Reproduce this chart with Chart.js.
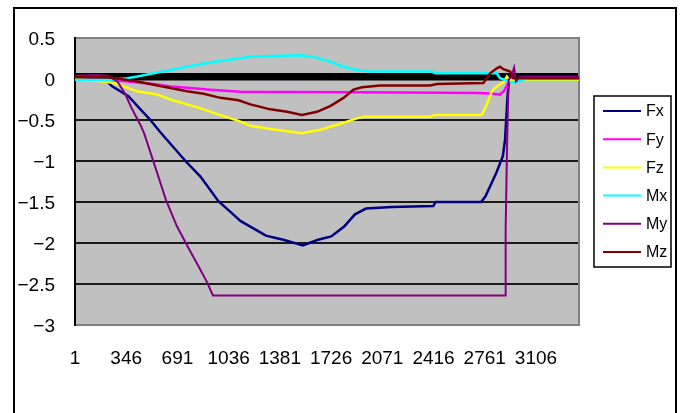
<!DOCTYPE html>
<html>
<head>
<meta charset="utf-8">
<script src="https://cdn.jsdelivr.net/npm/chart.js@4.4.1/dist/chart.umd.min.js"></script>
<style>
  html, body { margin: 0; padding: 0; background: #fff; }
  #wrap { width: 683px; height: 413px; }
</style>
</head>
<body>
<div id="wrap"><canvas id="c" width="683" height="413"></canvas></div>
<script>
// Sample index axis: last sample and labelled sample numbers
const SAMPLE_COUNT = 3396;
const CATEGORY_TICKS = [1, 346, 691, 1036, 1381, 1726, 2071, 2416, 2761, 3106];
const Y_MIN = -3, Y_MAX = 0.5, Y_STEP = 0.5;

const SERIES_NAMES = ['Fx', 'Fy', 'Fz', 'Mx', 'My', 'Mz'];

// Fx
const FX_AT = [1, 206, 251, 361, 442, 509, 576, 745, 846, 967, 1048, 1115, 1182, 1287, 1404, 1536, 1638, 1727, 1814, 1887, 1961, 2136, 2415, 2429, 2737, 2766, 2840, 2883, 2898, 2913, 2922, 2945, 3396];
const FX    = [-0.01, -0.01, -0.09, -0.21, -0.37, -0.50, -0.65, -1.00, -1.19, -1.49, -1.62, -1.73, -1.80, -1.91, -1.96, -2.03, -1.96, -1.92, -1.80, -1.65, -1.58, -1.56, -1.55, -1.50, -1.50, -1.43, -1.14, -0.94, -0.74, -0.25, -0.05, 0.00, 0.00];

// Fy
const FY_AT = [1, 193, 307, 462, 531, 644, 778, 913, 1115, 1518, 2191, 2722, 2816, 2863, 2890, 2913, 2926, 3396];
const FY    = [0.00, -0.01, -0.02, -0.05, -0.06, -0.09, -0.11, -0.13, -0.155, -0.16, -0.165, -0.17, -0.18, -0.19, -0.15, -0.07, -0.01, 0.00];

// Fz
const FZ_AT = [1, 193, 262, 329, 420, 554, 644, 756, 868, 980, 1103, 1182, 1317, 1530, 1653, 1788, 1900, 1945, 2169, 2393, 2427, 2741, 2775, 2809, 2842, 2887, 2910, 2925, 3396];
const FZ    = [0.00, -0.03, -0.05, -0.09, -0.15, -0.19, -0.25, -0.31, -0.37, -0.44, -0.51, -0.57, -0.61, -0.66, -0.62, -0.545, -0.48, -0.46, -0.46, -0.46, -0.44, -0.44, -0.31, -0.15, -0.09, -0.04, 0.03, -0.01, -0.01];

// Mx
const MX_AT = [1, 240, 352, 420, 531, 644, 756, 868, 980, 1103, 1182, 1317, 1530, 1608, 1720, 1810, 1900, 1990, 2405, 2427, 2842, 2864, 2898, 2932, 2986, 3033, 3396];
const MX    = [-0.01, -0.01, 0.01, 0.03, 0.07, 0.11, 0.15, 0.19, 0.22, 0.25, 0.27, 0.28, 0.29, 0.27, 0.21, 0.15, 0.11, 0.09, 0.09, 0.07, 0.07, 0.01, -0.01, -0.04, -0.03, 0.00, 0.00];

// My
const MY_AT = [1, 139, 220, 287, 341, 381, 442, 468, 539, 613, 686, 759, 832, 891, 930, 2898, 2902, 2912, 2922, 2939, 2959, 2972, 2999, 3396];
const MY    = [0.04, 0.05, 0.04, -0.03, -0.19, -0.35, -0.56, -0.67, -1.06, -1.47, -1.79, -2.04, -2.28, -2.48, -2.64, -2.64, -1.83, -0.74, -0.01, 0.03, 0.14, -0.03, 0.03, 0.03];

// Mz
const MZ_AT = [1, 218, 307, 420, 531, 644, 756, 868, 980, 1103, 1182, 1317, 1429, 1530, 1631, 1720, 1810, 1877, 1934, 2057, 2393, 2438, 2752, 2797, 2842, 2864, 2887, 2932, 2954, 3396];
const MZ    = [0.02, 0.02, 0.00, -0.03, -0.07, -0.11, -0.15, -0.18, -0.23, -0.26, -0.31, -0.37, -0.40, -0.44, -0.40, -0.33, -0.23, -0.13, -0.10, -0.08, -0.08, -0.06, -0.05, 0.07, 0.13, 0.15, 0.12, 0.09, 0.01, 0.01];

const SERIES_COLORS = ['#000080', '#FF00FF', '#FFFF00', '#00FFFF', '#800080', '#800000'];
const SERIES_WIDTHS = [2.5, 2.5, 2.5, 2.5, 2, 2.5];

function pairs(xs, ys) { return xs.map((x, i) => ({ x: x, y: ys[i] })); }
const seriesData = [pairs(FX_AT, FX), pairs(FY_AT, FY), pairs(FZ_AT, FZ),
                    pairs(MX_AT, MX), pairs(MY_AT, MY), pairs(MZ_AT, MZ)];

const datasets = SERIES_NAMES.map((name, i) => ({
  label: name,
  data: seriesData[i],
  borderColor: SERIES_COLORS[i],
  backgroundColor: SERIES_COLORS[i],
  borderWidth: SERIES_WIDTHS[i],
  pointRadius: 0,
  tension: 0,
  fill: false,
  order: SERIES_NAMES.length - i   // later series drawn on top
}));

const FONT = 'Liberation Sans, Arial, sans-serif';

function fmt(v) {
  const s = String(Math.round(v * 10) / 10);
  return s.replace('-', '\u2212');
}

const excelLook = {
  id: 'excelLook',
  beforeDraw(chart) {
    const { ctx, chartArea: a } = chart;
    ctx.save();
    ctx.fillStyle = '#fff';
    ctx.fillRect(0, 0, chart.width, chart.height);
    ctx.strokeStyle = '#000';
    ctx.lineWidth = 2;
    ctx.strokeRect(14, 8, 662, 520);
    ctx.fillStyle = '#C0C0C0';
    ctx.fillRect(a.left, a.top, a.right - a.left, a.bottom - a.top);
    ctx.restore();
  },
  beforeDatasetsDraw(chart) {
    const { ctx, chartArea: a, scales } = chart;
    const y0 = scales.y.getPixelForValue(0);
    ctx.save();
    // dense category tick marks along the axis crossing at zero
    ctx.fillStyle = '#000';
    ctx.fillRect(a.left, y0 - 6, a.right - a.left, 7.5);
    // plot frame
    ctx.strokeStyle = '#808080';
    ctx.lineWidth = 2;
    ctx.beginPath();
    ctx.moveTo(a.left, a.top); ctx.lineTo(a.right, a.top);
    ctx.lineTo(a.right, a.bottom); ctx.lineTo(a.left, a.bottom);
    ctx.stroke();
    ctx.strokeStyle = '#000';
    ctx.beginPath();
    ctx.moveTo(a.left, a.top - 1); ctx.lineTo(a.left, a.bottom + 1);
    ctx.stroke();
    ctx.restore();
  },
  afterDraw(chart) {
    const { ctx } = chart;
    const bx = 594, by = 96, bw = 77, bh = 171;
    ctx.save();
    ctx.fillStyle = '#fff';
    ctx.fillRect(bx, by, bw, bh);
    ctx.strokeStyle = '#000';
    ctx.lineWidth = 1.5;
    ctx.strokeRect(bx, by, bw, bh);
    ctx.font = '16px ' + FONT;
    ctx.textBaseline = 'middle';
    ctx.textAlign = 'left';
    chart.data.datasets.forEach((ds, i) => {
      const y = 111 + i * 28.2;
      ctx.strokeStyle = ds.borderColor;
      ctx.lineWidth = 2;
      ctx.beginPath();
      ctx.moveTo(603, y); ctx.lineTo(641, y);
      ctx.stroke();
      ctx.fillStyle = '#000';
      ctx.fillText(ds.label, 646, y + 1);
    });
    ctx.restore();
  }
};

new Chart(document.getElementById('c'), {
  type: 'line',
  data: { datasets: datasets },
  options: {
    responsive: false,
    animation: false,
    devicePixelRatio: 1,
    layout: { padding: { left: 0, top: 38, right: 104, bottom: 28 } },
    plugins: { legend: { display: false }, tooltip: { enabled: false } },
    scales: {
      x: {
        type: 'linear',
        min: 1,
        max: SAMPLE_COUNT,
        afterBuildTicks(scale) { scale.ticks = CATEGORY_TICKS.map(v => ({ value: v })); },
        afterFit(scale) { scale.height = 60; },
        grid: { display: false, drawTicks: false },
        border: { display: false },
        ticks: {
          autoSkip: false, maxRotation: 0, minRotation: 0,
          padding: 22, color: '#000',
          font: { family: FONT, size: 19 },
          callback: v => String(v)
        }
      },
      y: {
        min: Y_MIN, max: Y_MAX,
        afterFit(scale) { scale.width = 75; },
        grid: {
          drawTicks: false,
          color: ctx => (ctx.tick && (ctx.tick.value === Y_MAX || ctx.tick.value === Y_MIN)) ? '#808080' : '#1a1a1a',
          lineWidth: 2
        },
        border: { display: false },
        ticks: {
          stepSize: Y_STEP, padding: 20, color: '#000', labelOffset: 2,
          font: { family: FONT, size: 19 },
          callback: v => fmt(v)
        }
      }
    }
  },
  plugins: [excelLook]
});
</script>
</body>
</html>
